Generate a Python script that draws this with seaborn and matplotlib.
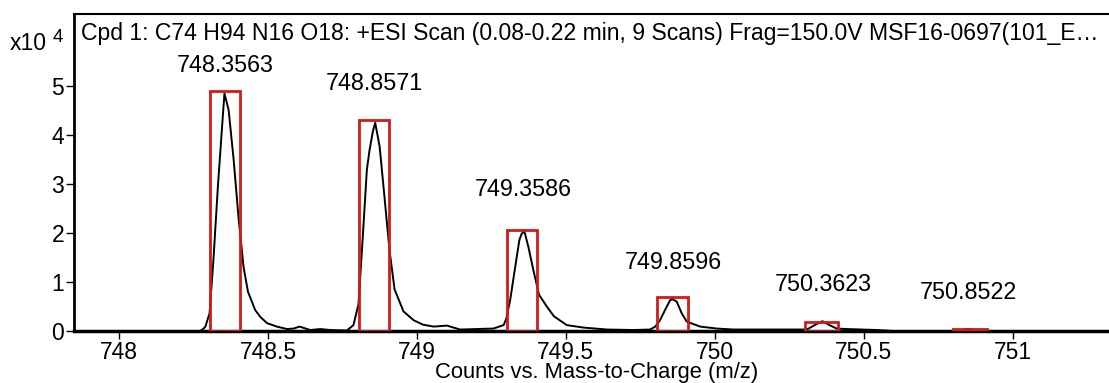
import matplotlib
matplotlib.use("Agg")
import matplotlib.pyplot as plt
import matplotlib.patches as mpatches
import seaborn as sns
import pandas as pd

# ---- data (intensity in units of 1e4 counts) ----
mz = [747.849, 748.273, 748.284, 748.290, 748.304, 748.317, 748.332, 748.346, 748.354,
      748.368, 748.385, 748.401, 748.418, 748.433, 748.457, 748.474, 748.497, 748.530,
      748.564, 748.586, 748.606, 748.642, 748.675, 748.709, 748.765, 748.787, 748.804,
      748.819, 748.832, 748.841, 748.852, 748.860, 748.875, 748.890, 748.908, 748.925,
      748.955, 748.989, 749.020, 749.056, 749.101, 749.145, 749.201, 749.257, 749.291,
      749.300, 749.313, 749.330, 749.344, 749.352, 749.361, 749.374, 749.391, 749.410,
      749.436, 749.460, 749.503, 749.559, 749.638, 749.727, 749.783, 749.800, 749.816,
      749.833, 749.850, 749.858, 749.872, 749.889, 749.906, 749.951, 750.007, 750.062,
      750.200, 750.309, 750.335, 750.361, 750.385, 750.409, 750.443, 750.544, 750.600,
      750.800, 750.850, 750.910, 751.360]
counts = [0.0, 0.0, 0.05, 0.09, 0.36, 1.45, 2.95, 4.17, 4.85,
          4.51, 3.49, 2.33, 1.31, 0.80, 0.43, 0.29, 0.16, 0.09,
          0.04, 0.05, 0.09, 0.02, 0.04, 0.02, 0.01, 0.12, 0.55,
          1.99, 3.29, 3.69, 4.07, 4.25, 3.76, 2.81, 1.65, 0.85,
          0.40, 0.22, 0.13, 0.09, 0.11, 0.03, 0.04, 0.05, 0.12,
          0.25, 0.63, 1.31, 1.86, 1.99, 2.03, 1.72, 1.24, 0.74,
          0.50, 0.30, 0.12, 0.07, 0.03, 0.02, 0.03, 0.09, 0.22,
          0.43, 0.63, 0.65, 0.60, 0.36, 0.19, 0.09, 0.05, 0.03,
          0.03, 0.03, 0.12, 0.20, 0.12, 0.05, 0.04, 0.02, 0.0,
          0.0, 0.04, 0.0, 0.0]

peak_labels = ["748.3563", "748.8571", "749.3586", "749.8596", "750.3623", "750.8522"]
peak_mz = [748.3563, 748.8571, 749.3586, 749.8596, 750.3623, 750.8522]
label_y = [5.41, 5.06, 2.88, 1.40, 0.94, 0.78]
box_left = [748.306, 748.806, 749.304, 749.806, 750.304, 750.800]
box_right = [748.405, 748.905, 749.403, 749.911, 750.415, 750.914]
box_top = [4.90, 4.30, 2.06, 0.70, 0.18, 0.05]

x_ticks = [748, 748.5, 749, 749.5, 750, 750.5, 751]
x_tick_labels = ["748", "748.5", "749", "749.5", "750", "750.5", "751"]
y_ticks = [0, 1, 2, 3, 4, 5]

title_text = "Cpd 1: C74 H94 N16 O18: +ESI Scan (0.08-0.22 min, 9 Scans) Frag=150.0V MSF16-0697(101_E\u2026"
x_label = "Counts vs. Mass-to-Charge (m/z)"

# ---- style ----
sns.set_theme(style="ticks")
plt.rcParams['font.family'] = ['Liberation Sans', 'DejaVu Sans']

W, H = 1109, 383
fig = plt.figure(figsize=(W / 100, H / 100), dpi=100)
ax_left, ax_right, ax_top, ax_bot = 74, 1120, 14, 331
ax = fig.add_axes([ax_left / W, (H - ax_bot) / H, (ax_right - ax_left) / W, (ax_bot - ax_top) / H])

df = pd.DataFrame({"mz": mz, "counts": counts})
sns.lineplot(data=df, x="mz", y="counts", ax=ax, color="black", linewidth=1.4,
             sort=False, estimator=None, zorder=3)

for l, r, t in zip(box_left, box_right, box_top):
    ax.add_patch(mpatches.Rectangle((l, 0), r - l, t, fill=False,
                                    edgecolor="#d01a1a", linewidth=2.0, zorder=4))

for lab, x, y in zip(peak_labels, peak_mz, label_y):
    ax.text(x, y, lab, ha="center", va="center", fontsize=16.8, color="black")

ax.set_xlim(747.849, 751.360)
ax.set_ylim(0, 6.47)
ax.set_xticks(x_ticks)
ax.set_xticklabels(x_tick_labels)
ax.set_yticks(y_ticks)
ax.tick_params(axis="both", labelsize=16.5, length=6, width=1.0, color="black",
               labelcolor="black", pad=1)
ax.set_xlabel("")
ax.set_ylabel("")

for side in ["left", "top", "right"]:
    ax.spines[side].set_color("black")
ax.spines["left"].set_linewidth(2.0)
ax.spines["top"].set_linewidth(1.5)
ax.spines["bottom"].set_linewidth(2.5)
ax.spines["bottom"].set_color("black")

ax.text(0.0064, 0.937, title_text, transform=ax.transAxes, ha="left", va="center",
        fontsize=16.6, color="black")

fig.text(597 / W, 1 - 378 / H, x_label, ha="center", va="baseline", fontsize=15.8, color="black")
fig.text(10 / W, 1 - 43 / H, "x10", ha="left", va="center", fontsize=16.5, color="black")
fig.text(53 / W, 1 - 38 / H, "4", ha="left", va="center", fontsize=13.5, color="black")

fig.savefig("out.png", dpi=100)
